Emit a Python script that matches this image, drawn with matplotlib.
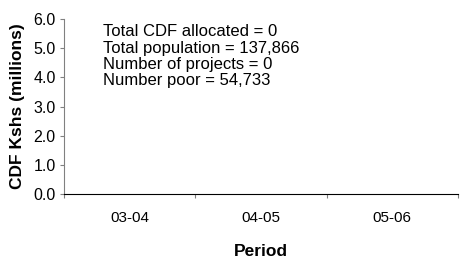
import matplotlib
matplotlib.use("Agg")
import matplotlib.pyplot as plt
from matplotlib.ticker import FixedLocator, NullFormatter

plt.rcParams['font.family'] = ['Liberation Sans', 'DejaVu Sans']

periods = ["03-04", "04-05", "05-06"]
cdf_values = [0, 0, 0]
y_ticks = [0.0, 1.0, 2.0, 3.0, 4.0, 5.0, 6.0]
info_lines = ["Total CDF allocated = 0",
              "Total population = 137,866",
              "Number of projects = 0",
              "Number poor = 54,733"]

fig = plt.figure(figsize=(4.65, 2.62), dpi=100)
ax = fig.add_axes([0.1376, 0.2595, 0.8474, 0.668])

x = list(range(len(periods)))
ax.bar(x, cdf_values, width=0.5, color="#333399")

ax.set_xlim(-0.5, len(periods) - 0.5)
ax.set_ylim(y_ticks[0], y_ticks[-1])
ax.set_yticks(y_ticks)
ax.set_yticklabels([f"{v:.1f}" for v in y_ticks], fontsize=11.5)

ax.xaxis.set_major_locator(FixedLocator([i - 0.5 for i in range(len(periods) + 1)]))
ax.xaxis.set_major_formatter(NullFormatter())
ax.xaxis.set_minor_locator(FixedLocator(x))
ax.set_xticklabels(periods, minor=True, fontsize=11)
ax.tick_params(axis='x', which='minor', length=0, pad=12)
ax.tick_params(axis='x', which='major', length=3, direction='out', color='#808080')
ax.tick_params(axis='y', length=3, direction='out', color='#808080', pad=3)

for s in ['top', 'right']:
    ax.spines[s].set_visible(False)
ax.spines['left'].set_color('#808080')
ax.spines['bottom'].set_color('black')

ax.set_xlabel("Period", fontsize=12.5, fontweight='bold', labelpad=14)
ax.set_ylabel("CDF Kshs (millions)", fontsize=12.5, fontweight='bold', labelpad=6)

# info block: line baselines at ~36, 52.5, 69, 85.5 px from top of figure
for i, line in enumerate(info_lines):
    y_px = 262 - (36 + 16.5 * i)
    fig.text(103 / 465, y_px / 262, line, fontsize=12, va='baseline', ha='left')

fig.savefig("out.png", dpi=100)
